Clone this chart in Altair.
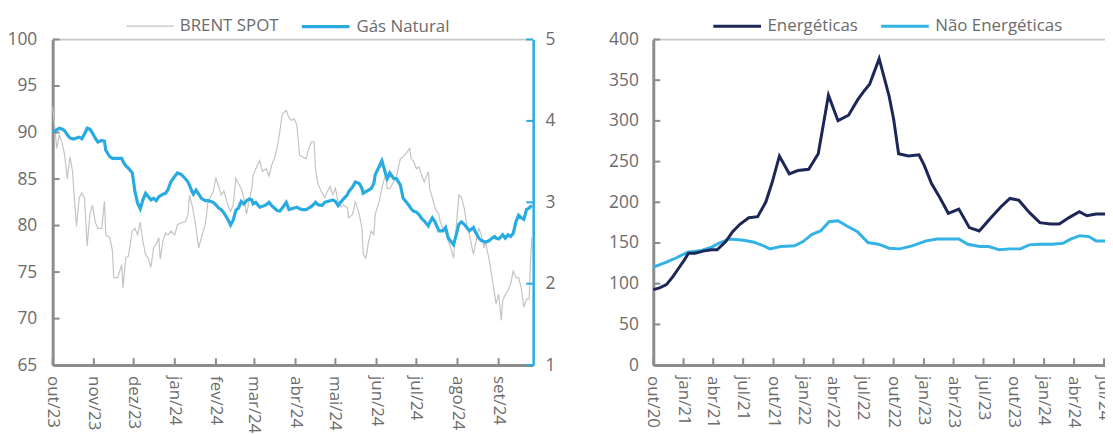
import altair as alt
import pandas as pd

# ---------------- data: left panel (daily) ----------------
brent_dates = [
    "2023-10-01", "2023-10-03", "2023-10-04", "2023-10-06", "2023-10-08", "2023-10-10", "2023-10-12", "2023-10-14",
    "2023-10-16", "2023-10-17", "2023-10-19", "2023-10-21", "2023-10-23", "2023-10-25", "2023-10-27", "2023-10-29",
    "2023-10-31", "2023-11-02", "2023-11-04", "2023-11-07", "2023-11-09", "2023-11-10", "2023-11-13", "2023-11-15",
    "2023-11-16", "2023-11-19", "2023-11-22", "2023-11-23", "2023-11-25", "2023-11-27", "2023-11-30", "2023-12-02",
    "2023-12-04", "2023-12-06", "2023-12-08", "2023-12-10", "2023-12-12", "2023-12-14", "2023-12-16", "2023-12-18",
    "2023-12-20", "2023-12-21", "2023-12-23", "2023-12-25", "2023-12-27", "2023-12-29", "2024-01-01", "2024-01-03",
    "2024-01-06", "2024-01-09", "2024-01-11", "2024-01-12", "2024-01-14", "2024-01-15", "2024-01-17", "2024-01-19",
    "2024-01-21", "2024-01-24", "2024-01-26", "2024-01-28", "2024-01-30", "2024-02-01", "2024-02-03", "2024-02-05",
    "2024-02-07", "2024-02-10", "2024-02-12", "2024-02-14", "2024-02-16", "2024-02-18", "2024-02-20", "2024-02-22",
    "2024-02-24", "2024-02-26", "2024-02-28", "2024-02-29", "2024-03-02", "2024-03-05", "2024-03-07", "2024-03-10",
    "2024-03-12", "2024-03-14", "2024-03-16", "2024-03-18", "2024-03-20", "2024-03-22", "2024-03-25", "2024-03-27",
    "2024-03-29", "2024-03-31", "2024-04-02", "2024-04-04", "2024-04-06", "2024-04-09", "2024-04-11", "2024-04-13",
    "2024-04-15", "2024-04-16", "2024-04-18", "2024-04-21", "2024-04-23", "2024-04-25", "2024-04-27", "2024-04-29",
    "2024-05-01", "2024-05-03", "2024-05-05", "2024-05-07", "2024-05-10", "2024-05-11", "2024-05-14", "2024-05-16",
    "2024-05-19", "2024-05-21", "2024-05-22", "2024-05-24", "2024-05-26", "2024-05-28", "2024-05-30", "2024-05-31",
    "2024-06-03", "2024-06-05", "2024-06-07", "2024-06-08", "2024-06-09", "2024-06-11", "2024-06-14", "2024-06-16",
    "2024-06-19", "2024-06-21", "2024-06-24", "2024-06-26", "2024-06-27", "2024-06-29", "2024-07-01", "2024-07-03",
    "2024-07-05", "2024-07-07", "2024-07-10", "2024-07-11", "2024-07-13", "2024-07-15", "2024-07-18", "2024-07-19",
    "2024-07-21", "2024-07-23", "2024-07-25", "2024-07-27", "2024-07-29", "2024-07-31", "2024-08-02", "2024-08-04",
    "2024-08-06", "2024-08-08", "2024-08-10", "2024-08-13", "2024-08-14", "2024-08-17", "2024-08-19", "2024-08-21",
    "2024-08-22", "2024-08-25", "2024-08-27", "2024-08-29", "2024-08-30", "2024-09-01", "2024-09-03", "2024-09-04",
    "2024-09-06", "2024-09-08", "2024-09-10", "2024-09-12", "2024-09-14", "2024-09-16", "2024-09-18", "2024-09-20",
    "2024-09-22", "2024-09-24", "2024-09-25", "2024-09-26",
]
brent_values = [
    92.8, 90.0, 88.3, 89.7, 89.0, 87.6, 85.0, 87.4, 85.8, 83.5, 79.9, 83.0, 83.5, 83.0, 77.8, 81.2,
    82.2, 80.4, 79.7, 79.7, 82.6, 79.0, 78.7, 77.3, 74.4, 74.4, 75.8, 73.3, 76.5, 76.7, 79.4, 79.7,
    79.0, 80.4, 78.3, 76.9, 76.5, 75.5, 77.6, 78.0, 78.7, 76.4, 78.3, 79.2, 79.0, 79.4, 79.0, 80.1,
    80.3, 80.4, 81.2, 83.3, 82.2, 81.5, 79.7, 77.6, 78.7, 80.1, 82.6, 83.1, 83.7, 85.1, 84.2, 83.3,
    83.7, 82.2, 81.5, 82.2, 85.1, 84.5, 84.0, 83.0, 81.2, 82.6, 84.0, 85.4, 86.1, 87.0, 85.8, 86.1,
    85.3, 86.5, 87.2, 88.3, 90.0, 92.0, 92.4, 91.6, 91.3, 91.5, 90.8, 87.6, 87.4, 87.2, 88.3, 89.0,
    89.0, 86.1, 84.4, 83.5, 83.0, 83.7, 84.2, 83.3, 84.0, 82.6, 82.0, 82.2, 81.9, 80.8, 81.2, 82.6,
    81.2, 79.7, 76.9, 76.5, 78.3, 79.4, 79.0, 81.2, 82.6, 84.0, 85.1, 85.4, 84.0, 84.0, 84.7, 85.3,
    87.2, 87.4, 87.9, 88.3, 87.2, 86.9, 86.1, 86.3, 85.4, 84.7, 85.8, 84.0, 83.0, 81.9, 81.2, 80.4,
    79.7, 79.4, 78.3, 77.6, 76.5, 79.7, 83.3, 83.0, 81.9, 80.1, 79.0, 76.9, 77.6, 79.7, 79.0, 77.6,
    78.3, 76.2, 74.4, 72.6, 71.6, 72.6, 69.8, 71.9, 72.6, 73.0, 73.7, 75.1, 74.4, 74.4, 73.3, 71.2,
    72.1, 72.1, 76.2, 78.7,
]
gas_values = [
    3.86, 3.88, 3.89, 3.91, 3.90, 3.88, 3.83, 3.79, 3.78, 3.78, 3.79, 3.80, 3.78, 3.84, 3.91, 3.90,
    3.85, 3.79, 3.74, 3.76, 3.75, 3.64, 3.56, 3.54, 3.54, 3.54, 3.54, 3.50, 3.45, 3.42, 3.36, 3.13,
    2.99, 2.92, 3.03, 3.11, 3.07, 3.03, 3.05, 3.02, 3.07, 3.08, 3.10, 3.11, 3.16, 3.25, 3.32, 3.36,
    3.34, 3.29, 3.25, 3.21, 3.13, 3.10, 3.15, 3.10, 3.05, 3.02, 3.02, 3.01, 3.00, 2.97, 2.93, 2.91,
    2.87, 2.79, 2.72, 2.78, 2.90, 2.93, 3.01, 2.98, 3.02, 3.04, 3.03, 2.98, 3.00, 2.94, 2.95, 2.97,
    3.00, 2.96, 2.93, 2.90, 2.89, 2.93, 3.00, 2.91, 2.92, 2.93, 2.94, 2.92, 2.91, 2.91, 2.93, 2.95,
    2.98, 3.00, 2.97, 2.96, 3.00, 3.01, 3.02, 3.03, 3.01, 2.96, 3.00, 3.04, 3.09, 3.13, 3.19, 3.25,
    3.23, 3.17, 3.11, 3.13, 3.15, 3.17, 3.23, 3.34, 3.44, 3.51, 3.40, 3.34, 3.29, 3.36, 3.29, 3.29,
    3.21, 3.05, 2.99, 2.95, 2.92, 2.89, 2.88, 2.85, 2.80, 2.77, 2.71, 2.75, 2.81, 2.76, 2.65, 2.65,
    2.65, 2.69, 2.56, 2.52, 2.48, 2.60, 2.73, 2.76, 2.73, 2.69, 2.65, 2.69, 2.65, 2.56, 2.53, 2.52,
    2.51, 2.53, 2.56, 2.58, 2.56, 2.55, 2.58, 2.60, 2.56, 2.60, 2.58, 2.62, 2.76, 2.84, 2.81, 2.79,
    2.91, 2.93, 2.95, 2.96,
]

# ---------------- data: right panel ----------------
energy_dates = [
    "2020-10-01", "2020-10-20", "2020-11-10", "2020-11-30", "2020-12-17", "2021-01-03", "2021-01-16", "2021-02-05",
    "2021-03-01", "2021-03-27", "2021-04-13", "2021-05-09", "2021-05-30", "2021-06-21", "2021-07-18", "2021-08-14",
    "2021-09-08", "2021-09-26", "2021-10-19", "2021-11-18", "2021-12-14", "2022-01-16", "2022-02-14", "2022-03-17",
    "2022-04-15", "2022-05-17", "2022-06-13", "2022-06-30", "2022-07-20", "2022-08-18", "2022-09-17", "2022-10-01",
    "2022-10-16", "2022-11-15", "2022-12-17", "2023-01-02", "2023-01-24", "2023-02-14", "2023-02-28", "2023-03-16",
    "2023-04-17", "2023-05-19", "2023-06-18", "2023-07-22", "2023-08-23", "2023-09-19", "2023-10-16", "2023-11-17",
    "2023-12-19", "2024-01-20", "2024-02-16", "2024-03-18", "2024-04-17", "2024-05-10", "2024-06-07", "2024-07-22",
]
energy_values = [
    92.8, 94.8, 98.9, 109.0, 119.0, 129.0, 137.5, 137.5, 140.0, 141.6, 141.6, 151.8, 164.0, 173.0, 181.0, 182.3,
    200.6, 223.0, 256.8, 235.0, 239.0, 240.5, 259.6, 331.6, 300.3, 307.0, 325.5, 335.0, 345.0, 376.4, 330.8, 302.0,
    259.6, 256.8, 258.4, 245.4, 223.0, 208.8, 198.6, 186.4, 191.7, 168.9, 164.8, 180.3, 194.5, 204.7, 202.6, 187.6,
    175.0, 173.3, 173.3, 181.5, 188.4, 183.5, 185.6, 185.6,
]
nonenergy_dates = [
    "2020-10-01", "2020-11-10", "2020-12-12", "2021-01-14", "2021-02-24", "2021-03-27", "2021-04-23", "2021-05-20",
    "2021-07-02", "2021-08-03", "2021-08-30", "2021-09-20", "2021-10-22", "2021-12-04", "2021-12-30", "2022-01-26",
    "2022-02-21", "2022-03-19", "2022-04-15", "2022-05-12", "2022-06-13", "2022-07-15", "2022-08-16", "2022-09-17",
    "2022-10-19", "2022-11-26", "2023-01-08", "2023-02-09", "2023-03-11", "2023-04-17", "2023-05-14", "2023-06-20",
    "2023-07-17", "2023-08-18", "2023-09-19", "2023-10-21", "2023-11-17", "2023-12-19", "2024-01-26", "2024-02-27",
    "2024-03-23", "2024-04-19", "2024-05-16", "2024-06-07", "2024-07-22",
]
nonenergy_values = [
    120.4, 126.6, 132.2, 138.8, 140.8, 144.9, 150.6, 155.0, 153.4, 151.0, 146.9, 142.8, 145.7, 146.5, 151.8, 160.7,
    164.8, 176.2, 177.4, 170.9, 164.0, 150.6, 148.5, 143.6, 142.8, 146.5, 152.6, 155.0, 155.0, 155.0, 148.5, 145.7,
    145.7, 141.6, 142.8, 142.8, 147.7, 148.5, 148.5, 149.7, 155.0, 159.0, 157.9, 152.6, 152.6,
]

# ---------------- axes / labels ----------------
left_series = ["BRENT SPOT", "Gás Natural"]
right_series = ["Energéticas", "Não Energéticas"]
left_x_ticks = ["2023-10-01", "2023-11-01", "2023-12-01", "2024-01-01", "2024-02-01", "2024-03-01",
                "2024-04-01", "2024-05-01", "2024-06-01", "2024-07-01", "2024-08-01", "2024-09-01"]
right_x_ticks = ["2020-10-01", "2021-01-01", "2021-04-01", "2021-07-01", "2021-10-01", "2022-01-01",
                 "2022-04-01", "2022-07-01", "2022-10-01", "2023-01-01", "2023-04-01", "2023-07-01",
                 "2023-10-01", "2024-01-01", "2024-04-01", "2024-07-01"]
left_x_domain = ["2023-10-01", "2024-09-27"]
right_x_domain = ["2020-10-01", "2024-07-22"]
brent_ticks = [65, 70, 75, 80, 85, 90, 95, 100]
gas_ticks = [1, 2, 3, 4, 5]
right_y_ticks = [0, 50, 100, 150, 200, 250, 300, 350, 400]
month_pt = ["jan", "fev", "mar", "abr", "mai", "jun", "jul", "ago", "set", "out", "nov", "dez"]

# ---------------- style ----------------
FONT = "Open Sans"
TXT = "#6b6b6b"
AXIS_GRAY = "#8c8c8c"
BORDER = "#c8c8c8"
BRENT_C = "#c4c4c4"
GAS_C = "#29abe2"
NAVY = "#1c2657"
LBLUE = "#33b2e6"
W1, W2, H = 484, 461, 328
TICK = 7
YFS, XFS, LFS = 17.5, 17, 17
SVG_W, SVG_H = 1105, 418
PAD_L, PAD_T = 45, 29


def ms(s):
    return int(pd.Timestamp(s, tz="UTC").value // 10**6)


month_js = "[" + ",".join("'%s'" % m for m in month_pt) + "]"
label_calc = (month_js + "[utcmonth(toDate(datum.date))] + '/' + "
              "utcFormat(toDate(datum.date), '%y')")


def x_enc(domain):
    return alt.X(
        "date:T",
        scale=alt.Scale(type="utc", domain=[ms(d) for d in domain]),
        axis=alt.Axis(labels=False, ticks=False, grid=False, title=None,
                      domainColor=AXIS_GRAY, domainWidth=3),
    )


def x_labels(df):
    return alt.Chart(df).transform_calculate(lab=label_calc).mark_text(
        angle=90, align="left", baseline="middle", font=FONT, fontSize=XFS, color=TXT
    ).encode(x="date:T", y=alt.value(H + 11), text="lab:N")


def legend(x):
    return alt.Legend(orient="none", legendX=x, legendY=-39, direction="horizontal", title=None,
                      symbolType="stroke", symbolSize=2304, labelFontSize=LFS, labelColor=TXT,
                      labelFont=FONT, labelOffset=5, columnPadding=16, symbolStrokeWidth=2.5)


def series_enc(names, colors, widths, lx):
    return dict(
        color=alt.Color("serie:N", scale=alt.Scale(domain=names, range=colors), legend=legend(lx)),
        strokeWidth=alt.StrokeWidth("serie:N", scale=alt.Scale(domain=names, range=widths), legend=legend(lx)),
    )


# ---------------- left panel ----------------
brent_df = pd.DataFrame({"date": brent_dates, "value": brent_values, "serie": left_series[0]})
gas_df = pd.DataFrame({"date": brent_dates, "value": gas_values, "serie": left_series[1]})
lxt_df = pd.DataFrame({"date": left_x_ticks})
bt_df = pd.DataFrame({"value": brent_ticks})
gt_df = pd.DataFrame({"value": gas_ticks})
one = pd.DataFrame({"k": [0]})

left_enc = series_enc(left_series, [BRENT_C, GAS_C], [1.2, 3.2], 73)
y_left = alt.Y("value:Q", scale=alt.Scale(domain=[65, 100]),
               axis=alt.Axis(values=brent_ticks, ticks=False, grid=False, title=None, domainColor=AXIS_GRAY,
                             domainWidth=3, labelPadding=16, labelFontSize=YFS, labelColor=TXT, labelFont=FONT))
y_gas = alt.Y("value:Q", scale=alt.Scale(domain=[1, 5]),
              axis=alt.Axis(orient="right", values=gas_ticks, format="d", ticks=False, grid=False, title=None,
                            domainColor=GAS_C, domainWidth=2.5, labelPadding=12, labelFontSize=YFS,
                            labelColor=TXT, labelFont=FONT))

brent_line = alt.Chart(brent_df).mark_line(interpolate="linear").encode(
    x=x_enc(left_x_domain), y=y_left, **left_enc)
brent_yt = alt.Chart(bt_df).mark_rule(color=AXIS_GRAY, strokeWidth=2).encode(
    y="value:Q", x=alt.value(0), x2=alt.value(TICK))
left_xt = alt.Chart(lxt_df).mark_rule(color=AXIS_GRAY, strokeWidth=2).encode(
    x="date:T", y=alt.value(H), y2=alt.value(H - TICK))
left_top = alt.Chart(one).mark_rule(color=BORDER, strokeWidth=1.5).encode(
    x=alt.value(0), x2=alt.value(W1), y=alt.value(0))

gas_line = alt.Chart(gas_df).mark_line(interpolate="linear").encode(
    x="date:T", y=y_gas, **left_enc)
gas_yt = alt.Chart(gt_df).mark_rule(color=GAS_C, strokeWidth=2).encode(
    y="value:Q", x=alt.value(W1 - TICK), x2=alt.value(W1))

left = alt.layer(
    alt.layer(left_top, brent_line, brent_yt, left_xt, x_labels(lxt_df)),
    alt.layer(gas_line, gas_yt),
).resolve_scale(y="independent").properties(width=W1, height=H)

# ---------------- right panel ----------------
en_df = pd.DataFrame({"date": energy_dates, "value": energy_values, "serie": right_series[0]})
ne_df = pd.DataFrame({"date": nonenergy_dates, "value": nonenergy_values, "serie": right_series[1]})
rxt_df = pd.DataFrame({"date": right_x_ticks})
ryt_df = pd.DataFrame({"value": right_y_ticks})

right_enc = series_enc(right_series, [NAVY, LBLUE], [3, 3], 59)
y_right = alt.Y("value:Q", scale=alt.Scale(domain=[0, 400]),
                axis=alt.Axis(values=right_y_ticks, ticks=False, grid=False, title=None, domainColor=AXIS_GRAY,
                              domainWidth=3, labelPadding=15, labelFontSize=YFS, labelColor=TXT, labelFont=FONT))

ne_line = alt.Chart(ne_df).mark_line().encode(x=x_enc(right_x_domain), y=y_right, **right_enc)
en_line = alt.Chart(en_df).mark_line().encode(x="date:T", y="value:Q", **right_enc)
right_yt = alt.Chart(ryt_df).mark_rule(color=AXIS_GRAY, strokeWidth=2).encode(
    y="value:Q", x=alt.value(0), x2=alt.value(TICK))
right_xt = alt.Chart(rxt_df).mark_rule(color=AXIS_GRAY, strokeWidth=2).encode(
    x="date:T", y=alt.value(H), y2=alt.value(H - TICK))
right_top = alt.Chart(one).mark_rule(color=BORDER, strokeWidth=1.5).encode(
    x=alt.value(0), x2=alt.value(W2), y=alt.value(0))

right = alt.layer(ne_line, en_line, right_top, right_yt, right_xt, x_labels(rxt_df)).properties(
    width=W2, height=H)

chart = alt.hconcat(left, right, spacing=52).resolve_scale(
    x="independent", y="independent", color="independent", strokeWidth="independent"
).properties(
    autosize=alt.AutoSizeParams(type="none"),
    padding={"left": PAD_L, "top": PAD_T, "right": SVG_W - PAD_L, "bottom": SVG_H - PAD_T},
).configure_view(strokeWidth=0).configure(font=FONT)

chart.save("out.html", embed_options={"renderer": "svg", "actions": False})
